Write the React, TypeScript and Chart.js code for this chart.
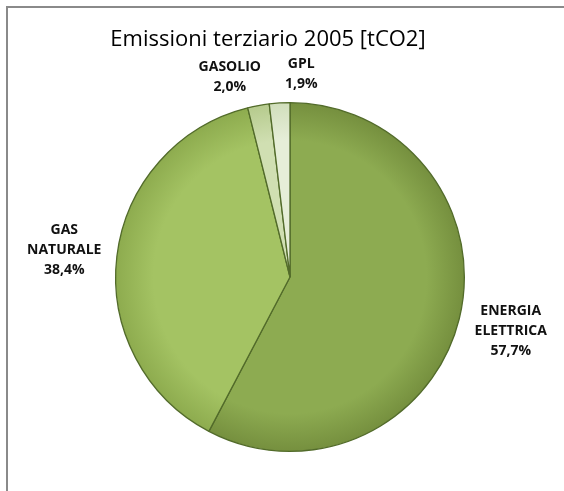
import React, { useEffect, useRef } from "react";
import { Chart, registerables } from "chart.js";

Chart.register(...registerables);

const title = "Emissioni terziario 2005 [tCO2]";
const categories = ["ENERGIA ELETTRICA", "GAS NATURALE", "GASOLIO", "GPL"];
const labelLines = [["ENERGIA", "ELETTRICA"], ["GAS", "NATURALE"], ["GASOLIO"], ["GPL"]];
const values = [57.7, 38.4, 2.0, 1.9];
const percentLabels = ["57,7%", "38,4%", "2,0%", "1,9%"];
const innerColors = ["#8dab51", "#a4c363", "#d0dfb2", "#e6eed8"];
const outerColors = ["#758f3e", "#8dab4e", "#b5ca8c", "#d0debb"];

const labelFont = "bold 14px 'Open Sans', 'Noto Sans', sans-serif";
const titleFont = "22px 'Open Sans', 'Noto Sans', sans-serif";

const framePlugin = {
  id: "frame",
  beforeDraw(chart: any) {
    const ctx = chart.ctx;
    ctx.save();
    ctx.fillStyle = "#fff";
    ctx.fillRect(0, 0, chart.width, chart.height);
    ctx.strokeStyle = "#8a8a8a";
    ctx.lineWidth = 2;
    ctx.beginPath();
    ctx.moveTo(7, chart.height);
    ctx.lineTo(7, 7);
    ctx.lineTo(chart.width, 7);
    ctx.stroke();
    ctx.restore();
  },
};

const labelPlugin = {
  id: "pieLabels",
  afterDraw(chart: any) {
    const ctx = chart.ctx;
    const meta = chart.getDatasetMeta(0);
    ctx.save();
    ctx.font = titleFont;
    ctx.fillStyle = "#000";
    ctx.textAlign = "center";
    ctx.textBaseline = "middle";
    ctx.fillText(title, 268, 40);

    ctx.font = labelFont;
    const lineH = 20;
    const items = meta.data.map((arc: any, i: number) => {
      const p = arc.getProps(["x", "y", "startAngle", "endAngle", "outerRadius"], true);
      const mid = (p.startAngle + p.endAngle) / 2;
      const lines = [...labelLines[i], percentLabels[i]];
      const w = Math.max(...lines.map((l) => ctx.measureText(l).width));
      const dist = p.outerRadius + (Math.abs(Math.cos(mid)) > 0.5 ? 53 : 29);
      return {
        x: p.x + Math.cos(mid) * dist,
        y: p.y + Math.sin(mid) * dist,
        w,
        lines,
      };
    });
    for (let k = 0; k < 5; k++) {
      for (let a = 0; a < items.length; a++) {
        for (let b = a + 1; b < items.length; b++) {
          const A = items[a], B = items[b];
          const hA = (A.lines.length * lineH) / 2, hB = (B.lines.length * lineH) / 2;
          if (Math.abs(A.y - B.y) < hA + hB) {
            const need = A.w / 2 + B.w / 2 + 24;
            const d = Math.abs(A.x - B.x);
            if (d < need) {
              const m = (A.x + B.x) / 2;
              const left = A.x < B.x ? A : B;
              const right = left === A ? B : A;
              left.x = m - need / 2;
              right.x = m + need / 2;
            }
          }
        }
      }
    }
    ctx.fillStyle = "#111";
    items.forEach((it: any) => {
      const n = it.lines.length;
      it.lines.forEach((l: string, j: number) => {
        ctx.fillText(l, it.x, it.y + (j - (n - 1) / 2) * lineH);
      });
    });
    ctx.restore();
  },
};

export default function App() {
  const ref = useRef<HTMLCanvasElement>(null);
  useEffect(() => {
    document.body.style.margin = "0";
    document.body.style.overflow = "hidden";
    const canvas = ref.current!;
    const grad = (ctx: any, i: number) => {
      const chart = ctx.chart;
      const area = chart.chartArea;
      if (!area) return innerColors[i];
      const cx = (area.left + area.right) / 2;
      const cy = (area.top + area.bottom) / 2;
      const r = Math.min(area.right - area.left, area.bottom - area.top) / 2;
      const g = chart.ctx.createRadialGradient(cx, cy, 0, cx, cy, r);
      g.addColorStop(0, innerColors[i]);
      g.addColorStop(0.78, innerColors[i]);
      g.addColorStop(1, outerColors[i]);
      return g;
    };
    const chart = new Chart(canvas, {
      type: "pie",
      data: {
        labels: categories,
        datasets: [
          {
            data: values,
            backgroundColor: (c: any) => grad(c, c.dataIndex),
            borderColor: "#526b2a",
            borderWidth: 1.3,
          },
        ],
      },
      options: {
        responsive: false,
        animation: false,
        layout: { padding: { left: 115, right: 99, top: 102, bottom: 39 } },
        plugins: {
          legend: { display: false },
          tooltip: { enabled: false },
          title: { display: false },
        },
      },
      plugins: [framePlugin, labelPlugin],
    });
    return () => chart.destroy();
  }, []);
  return (
    <div style={{ width: 564, height: 491 }}>
      <canvas ref={ref} width={564} height={491} style={{ display: "block" }} />
    </div>
  );
}
